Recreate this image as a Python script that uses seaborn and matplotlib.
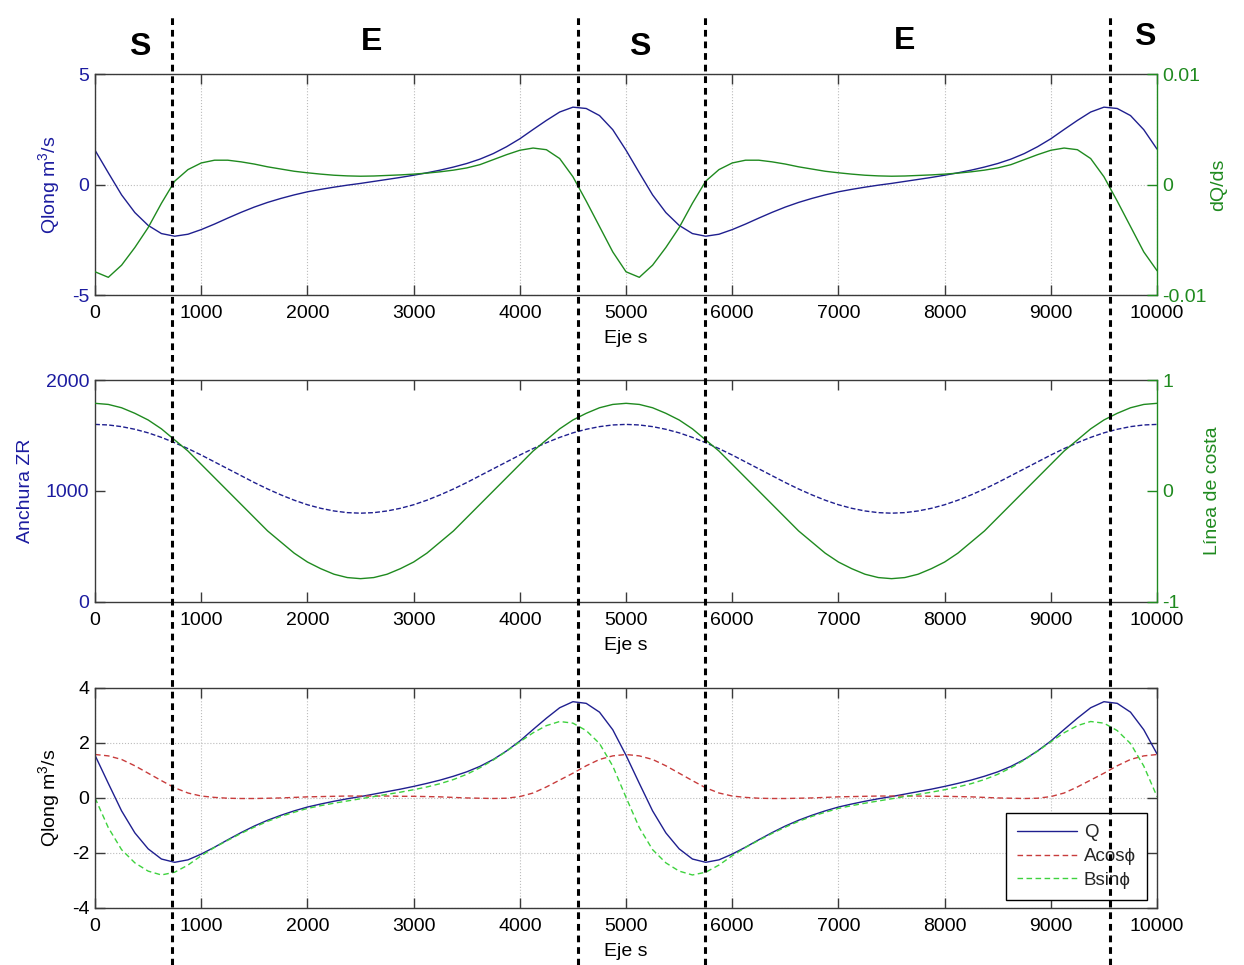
import seaborn as sns
import matplotlib.pyplot as plt
import matplotlib.transforms as mtransforms
from matplotlib.lines import Line2D

# sample positions along the coast (m)
s = list(range(0, 10001, 125))

# values, one per position in s
q_long = [1.55, 0.53, -0.47, -1.27, -1.85, -2.22, -2.34, -2.25, -2.04, -1.79,
          -1.52, -1.26, -1.02, -0.81, -0.63, -0.47, -0.33, -0.22, -0.12, -0.03,
          0.05, 0.14, 0.23, 0.32, 0.42, 0.53, 0.65, 0.79, 0.95, 1.15,
          1.40, 1.71, 2.07, 2.49, 2.90, 3.28, 3.50, 3.44, 3.12, 2.48,
          1.55, 0.53, -0.47, -1.27, -1.85, -2.22, -2.34, -2.25, -2.04, -1.79,
          -1.52, -1.26, -1.02, -0.81, -0.63, -0.47, -0.33, -0.22, -0.12, -0.03,
          0.05, 0.14, 0.23, 0.32, 0.42, 0.53, 0.65, 0.79, 0.95, 1.15,
          1.40, 1.71, 2.07, 2.49, 2.90, 3.28, 3.50, 3.44, 3.12, 2.48,
          1.60]

dq_ds = [-0.0079, -0.0084, -0.0073, -0.0057, -0.0039, -0.0017, 0.0003, 0.00135, 0.00195, 0.0022,
         0.0022, 0.00205, 0.00185, 0.0016, 0.0014, 0.0012, 0.00106, 0.00094, 0.00084, 0.00078,
         0.00075, 0.00077, 0.00082, 0.00087, 0.00094, 0.00103, 0.00115, 0.0013, 0.0015, 0.0018,
         0.00225, 0.0027, 0.0031, 0.0033, 0.00315, 0.00235, 0.0007, -0.0015, -0.0038, -0.0061,
         -0.0079, -0.0084, -0.0073, -0.0057, -0.0039, -0.0017, 0.0003, 0.00135, 0.00195, 0.0022,
         0.0022, 0.00205, 0.00185, 0.0016, 0.0014, 0.0012, 0.00106, 0.00094, 0.00084, 0.00078,
         0.00075, 0.00077, 0.00082, 0.00087, 0.00094, 0.00103, 0.00115, 0.0013, 0.0015, 0.0018,
         0.00225, 0.0027, 0.0031, 0.0033, 0.00315, 0.00235, 0.0007, -0.0015, -0.0038, -0.0061,
         -0.0078]

anchura_zr = [1600, 1595, 1580, 1556, 1524, 1483, 1435, 1382, 1324, 1262,
              1200, 1138, 1076, 1018, 965, 917, 876, 844, 820, 805,
              800, 805, 820, 844, 876, 917, 965, 1018, 1076, 1138,
              1200, 1262, 1324, 1382, 1435, 1483, 1524, 1556, 1580, 1595,
              1600, 1595, 1580, 1556, 1524, 1483, 1435, 1382, 1324, 1262,
              1200, 1138, 1076, 1018, 965, 917, 876, 844, 820, 805,
              800, 805, 820, 844, 876, 917, 965, 1018, 1076, 1138,
              1200, 1262, 1324, 1382, 1435, 1483, 1524, 1556, 1580, 1595,
              1600]

linea_costa = [0.79, 0.78, 0.75, 0.70, 0.64, 0.56, 0.46, 0.36, 0.24, 0.12,
               0.00, -0.12, -0.24, -0.36, -0.46, -0.56, -0.64, -0.70, -0.75, -0.78,
               -0.79, -0.78, -0.75, -0.70, -0.64, -0.56, -0.46, -0.36, -0.24, -0.12,
               0.00, 0.12, 0.24, 0.36, 0.46, 0.56, 0.64, 0.70, 0.75, 0.78,
               0.79, 0.78, 0.75, 0.70, 0.64, 0.56, 0.46, 0.36, 0.24, 0.12,
               0.00, -0.12, -0.24, -0.36, -0.46, -0.56, -0.64, -0.70, -0.75, -0.78,
               -0.79, -0.78, -0.75, -0.70, -0.64, -0.56, -0.46, -0.36, -0.24, -0.12,
               0.00, 0.12, 0.24, 0.36, 0.46, 0.56, 0.64, 0.70, 0.75, 0.78,
               0.79]

a_cos = [1.58, 1.53, 1.40, 1.17, 0.90, 0.63, 0.37, 0.18, 0.07, 0.02,
         -0.01, -0.02, -0.02, -0.01, 0.00, 0.02, 0.04, 0.05, 0.06, 0.07,
         0.07, 0.07, 0.07, 0.06, 0.06, 0.05, 0.04, 0.02, 0.00, -0.01,
         -0.02, -0.01, 0.05, 0.18, 0.40, 0.65, 0.90, 1.17, 1.40, 1.53,
         1.58, 1.53, 1.40, 1.17, 0.90, 0.63, 0.37, 0.18, 0.07, 0.02,
         -0.01, -0.02, -0.02, -0.01, 0.00, 0.02, 0.04, 0.05, 0.06, 0.07,
         0.07, 0.07, 0.07, 0.06, 0.06, 0.05, 0.04, 0.02, 0.00, -0.01,
         -0.02, -0.01, 0.05, 0.18, 0.40, 0.65, 0.90, 1.17, 1.40, 1.53,
         1.58]

b_sin = [0.00, -1.08, -1.88, -2.36, -2.66, -2.80, -2.70, -2.44, -2.10, -1.80,
         -1.54, -1.29, -1.06, -0.85, -0.67, -0.52, -0.38, -0.28, -0.19, -0.11,
         -0.03, 0.05, 0.13, 0.21, 0.30, 0.40, 0.52, 0.67, 0.86, 1.10,
         1.38, 1.70, 2.04, 2.37, 2.63, 2.78, 2.72, 2.45, 1.98, 1.16,
         0.02, -1.08, -1.88, -2.36, -2.66, -2.80, -2.70, -2.44, -2.10, -1.80,
         -1.54, -1.29, -1.06, -0.85, -0.67, -0.52, -0.38, -0.28, -0.19, -0.11,
         -0.03, 0.05, 0.13, 0.21, 0.30, 0.40, 0.52, 0.67, 0.86, 1.10,
         1.38, 1.70, 2.04, 2.37, 2.63, 2.78, 2.72, 2.45, 1.98, 1.16,
         0.05]

# stable / unstable zones
boundaries = [725, 4545, 5745, 9560]
zone_labels = ['S', 'E', 'S', 'E', 'S']
zone_centres = [424, 2608, 5132, 7627, 9887]
zone_label_y = [0.951, 0.956, 0.951, 0.958, 0.962]

xticks = list(range(0, 10001, 1000))

NAVY = '#1f1f8f'
BLUE_TXT = '#1c1ca0'
GREEN = '#1f8a1f'
LIME = '#3ed23e'
RED = '#c83c3c'
EDGE = '#3a3a3a'
FS = 14
LW = 1.0

sns.set_theme(style='white')
plt.rcParams['font.family'] = ['Liberation Sans', 'DejaVu Sans']
plt.rcParams['axes.unicode_minus'] = False
plt.rcParams['mathtext.default'] = 'regular'

fig = plt.figure(figsize=(12.44, 9.65), dpi=100)
ax1 = fig.add_axes([0.0764, 0.6943, 0.8537, 0.229])
ax2 = fig.add_axes([0.0764, 0.3762, 0.8537, 0.230])
ax3 = fig.add_axes([0.0764, 0.0591, 0.8537, 0.228])


def matlab_axes(ax, ycolor, grid, right=True):
    ax.set_xlim(0, 10000)
    ax.set_xticks(xticks)
    ax.tick_params(direction='in', length=7, width=1, top=True, right=right,
                   bottom=True, left=True, labelsize=FS, pad=4, color=EDGE)
    ax.tick_params(axis='x', labelcolor='black', pad=7)
    ax.tick_params(axis='y', labelcolor=ycolor)
    for sp in ax.spines.values():
        sp.set_color(EDGE)
        sp.set_linewidth(1.0)
    if grid:
        ax.grid(True, ls=':', color='#bcbcbc', lw=0.8)
    else:
        ax.grid(False)
    ax.set_xlabel('Eje s', fontsize=FS, labelpad=6, color='black')


def green_twin(ax):
    tw = ax.twinx()
    for side in ['left', 'top', 'bottom']:
        tw.spines[side].set_visible(False)
    tw.spines['right'].set_color(GREEN)
    tw.spines['right'].set_linewidth(1.0)
    ax.spines['right'].set_visible(False)
    tw.tick_params(axis='y', direction='in', length=7, width=1, color=GREEN,
                   labelcolor=GREEN, labelsize=FS, pad=4)
    tw.grid(False)
    return tw


# --- top: Qlong and dQ/ds ---
sns.lineplot(x=s, y=q_long, ax=ax1, color=NAVY, lw=LW)
matlab_axes(ax1, BLUE_TXT, grid=True, right=False)
ax1.set_ylim(-5, 5)
ax1.set_yticks([-5, 0, 5])
ax1.set_ylabel('Qlong m$^3$/s', fontsize=FS, color=BLUE_TXT)
ax1.yaxis.set_label_coords(-0.031, 0.5)

ax1r = green_twin(ax1)
sns.lineplot(x=s, y=dq_ds, ax=ax1r, color=GREEN, lw=LW)
ax1r.set_ylim(-0.01, 0.01)
ax1r.set_yticks([-0.01, 0, 0.01])
ax1r.set_yticklabels(['-0.01', '0', '0.01'])
ax1r.set_ylabel('dQ/ds', fontsize=FS, color=GREEN)
ax1r.yaxis.set_label_coords(1.050, 0.5)

# --- middle: Anchura ZR and Linea de costa ---
sns.lineplot(x=s, y=anchura_zr, ax=ax2, color=NAVY, lw=LW,
             linestyle=(0, (3.5, 1.6)))
matlab_axes(ax2, BLUE_TXT, grid=False, right=False)
ax2.set_ylim(0, 2000)
ax2.set_yticks([0, 1000, 2000])
ax2.set_ylabel('Anchura ZR', fontsize=FS, color=BLUE_TXT)
ax2.yaxis.set_label_coords(-0.0574, 0.5)

ax2r = green_twin(ax2)
sns.lineplot(x=s, y=linea_costa, ax=ax2r, color=GREEN, lw=LW)
ax2r.set_ylim(-1, 1)
ax2r.set_yticks([-1, 0, 1])
ax2r.set_ylabel('Línea de costa', fontsize=FS, color=GREEN)
ax2r.yaxis.set_label_coords(1.044, 0.5)

# --- bottom: decomposition ---
sns.lineplot(x=s, y=q_long, ax=ax3, color=NAVY, lw=LW, label='Q')
sns.lineplot(x=s, y=a_cos, ax=ax3, color=RED, lw=LW,
             linestyle=(0, (4, 2.5)), label='Acosϕ')
sns.lineplot(x=s, y=b_sin, ax=ax3, color=LIME, lw=LW,
             linestyle=(0, (4, 2.5)), label='Bsinϕ')
matlab_axes(ax3, 'black', grid=True, right=True)
ax3.set_ylim(-4, 4)
ax3.set_yticks([-4, -2, 0, 2, 4])
ax3.set_ylabel('Qlong m$^3$/s', fontsize=FS, color='black')
ax3.yaxis.set_label_coords(-0.031, 0.5)
leg = ax3.legend(loc='lower right', bbox_to_anchor=(0.9906, 0.036), borderaxespad=0,
                 fancybox=False, edgecolor='black', framealpha=1, fontsize=13.5,
                 handlelength=3.2, handletextpad=0.35, labelspacing=0.35, borderpad=0.6)
leg.get_frame().set_linewidth(1.0)

# zone boundaries crossing the whole figure, with zone labels on top
trans = mtransforms.blended_transform_factory(ax1.transData, fig.transFigure)
for b in boundaries:
    fig.add_artist(Line2D([b, b], [0, 0.9865], transform=trans, color='black',
                          lw=2.2, linestyle=(0, (2.2, 1.6))))
for lab, xc, yc in zip(zone_labels, zone_centres, zone_label_y):
    fig.text(xc, yc, lab, transform=trans, ha='center', va='center',
             fontsize=23, fontweight='bold', color='black')

fig.savefig('out.png', dpi=100)
